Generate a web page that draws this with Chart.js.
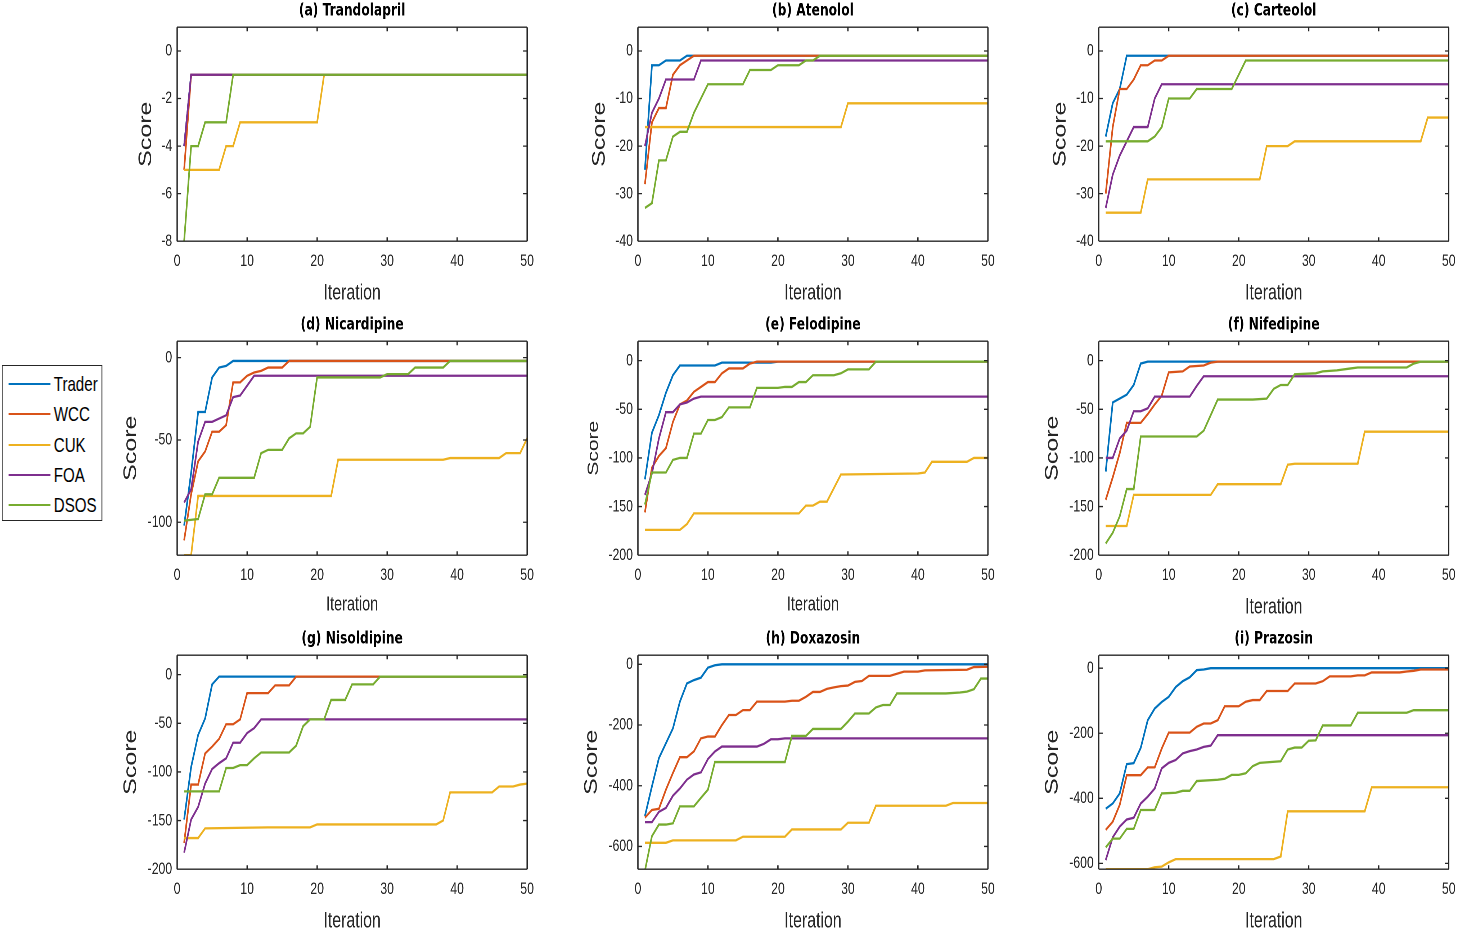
<!DOCTYPE html>
<html>
<head>
<meta charset="utf-8">
<title>Convergence of Trader, WCC, CUK, FOA and DSOS</title>
<script src="https://cdn.jsdelivr.net/npm/chart.js@4.4.0/dist/chart.umd.min.js"></script>
<style>
  html, body { margin: 0; padding: 0; background: #fff; overflow: hidden; }
  #figure { position: absolute; left: 0; top: 0; height: 932px; transform-origin: 0 0; }
  #figure canvas { position: absolute; }
  #legend {
    position: absolute; box-sizing: border-box; background: #fff; z-index: 2;
    border: 1px solid #262626;
    font-family: 'Liberation Sans', Arial, sans-serif; color: #000;
  }
  .legend-line { position: absolute; height: 2px; }
  .legend-text { position: absolute; line-height: 1; white-space: nowrap; }
</style>
</head>
<body>
<div id="figure"><div id="legend"></div></div>
<script>
// ---- data ----
const panelTitles = ['(a) Trandolapril', '(b) Atenolol', '(c) Carteolol',
                     '(d) Nicardipine', '(e) Felodipine', '(f) Nifedipine',
                     '(g) Nisoldipine', '(h) Doxazosin', '(i) Prazosin'];
const seriesNames = ['Trader', 'WCC', 'CUK', 'FOA', 'DSOS'];
const xLabel = 'Iteration';
const yLabel = 'Score';
const xMin = 0, xMax = 50, xStep = 10;
const yMins  = [-8, -40, -40, -120, -200, -200, -200, -675, -618];
const yMaxs  = [1, 5, 5, 10, 20, 20, 20, 30, 40];
const ySteps = [2, 10, 10, 50, 50, 50, 50, 200, 200];

// [iteration, score] at each point where the best score changes

// (a) Trandolapril
const aTrader = [[1,-4],[2,-1],[50,-1]];
const aWCC    = [[1,-5],[2,-1],[50,-1]];
const aCUK    = [[1,-5],[6,-5],[7,-4],[8,-4],[9,-3],[20,-3],[21,-1],[50,-1]];
const aFOA    = [[1,-4],[2,-1],[50,-1]];
const aDSOS   = [[1,-8],[2,-4],[3,-4],[4,-3],[7,-3],[8,-1],[50,-1]];

// (b) Atenolol
const bTrader = [[1,-25],[2,-3],[3,-3],[4,-2],[6,-2],[7,-1],[50,-1]];
const bWCC    = [[1,-28],[2,-15],[3,-12],[4,-12],[5,-5],[6,-3],[7,-2],[8,-1],[50,-1]];
const bCUK    = [[1,-16],[29,-16],[30,-11],[50,-11]];
const bFOA    = [[1,-20],[2,-13],[3,-10],[4,-6],[8,-6],[9,-2],[50,-2]];
const bDSOS   = [[1,-33],[2,-32],[3,-23],[4,-23],[5,-18],[6,-17],[7,-17],[8,-13],[9,-10],[10,-7],
                 [15,-7],[16,-4],[19,-4],[20,-3],[23,-3],[24,-2],[25,-2],[26,-1],[50,-1]];

// (c) Carteolol
const cTrader = [[1,-18],[2,-11],[3,-8],[4,-1],[50,-1]];
const cWCC    = [[1,-30],[2,-16],[3,-8],[4,-8],[5,-6],[6,-3],[7,-3],[8,-2],[9,-2],[10,-1],[50,-1]];
const cCUK    = [[1,-34],[6,-34],[7,-27],[23,-27],[24,-20],[27,-20],[28,-19],[46,-19],[47,-14],[50,-14]];
const cFOA    = [[1,-33],[2,-26],[3,-22],[4,-19],[5,-16],[7,-16],[8,-10],[9,-7],[50,-7]];
const cDSOS   = [[1,-19],[7,-19],[8,-18],[9,-16],[10,-10],[13,-10],[14,-8],[19,-8],[20,-5],[21,-2],[50,-2]];

// (d) Nicardipine
const dTrader = [[1,-102],[2,-70],[3,-33],[4,-33],[5,-12],[6,-6],[7,-5],[8,-2],[50,-2]];
const dWCC    = [[1,-111],[2,-83],[3,-63],[4,-57],[5,-45],[6,-45],[7,-41],[8,-15],[9,-15],[10,-11],
                 [11,-9],[12,-8],[13,-6],[15,-6],[16,-2],[50,-2]];
const dCUK    = [[1,-120],[2,-120],[3,-84],[22,-84],[23,-62],[38,-62],[39,-61],[46,-61],[47,-58],[49,-58],[50,-49]];
const dFOA    = [[1,-88],[2,-80],[3,-51],[4,-39],[5,-39],[6,-37],[7,-35],[8,-24],[9,-23],[10,-17],[11,-11],[50,-11]];
const dDSOS   = [[1,-99],[3,-98],[4,-83],[5,-83],[6,-73],[11,-73],[12,-58],[13,-56],[15,-56],[16,-49],
                 [17,-46],[18,-46],[19,-42],[20,-12],[29,-12],[30,-10],[33,-10],[34,-6],[38,-6],[39,-2],[50,-2]];

// (e) Felodipine
const eTrader = [[1,-122],[2,-74],[3,-56],[4,-33],[5,-15],[6,-5],[11,-5],[12,-2],[19,-2],[20,-1],[50,-1]];
const eWCC    = [[1,-156],[2,-110],[3,-98],[4,-90],[5,-63],[6,-45],[7,-41],[8,-32],[9,-27],[10,-22],
                 [11,-22],[12,-13],[13,-8],[15,-8],[16,-3],[17,-1],[50,-1]];
const eCUK    = [[1,-174],[6,-174],[7,-168],[8,-157],[23,-157],[24,-149],[25,-149],[26,-145],[27,-145],
                 [28,-131],[29,-117],[40,-116],[41,-115],[42,-104],[47,-104],[48,-100],[50,-100]];
const eFOA    = [[1,-138],[2,-116],[3,-80],[4,-53],[5,-53],[6,-45],[7,-43],[8,-39],[9,-37],[50,-37]];
const eDSOS   = [[1,-148],[2,-115],[4,-115],[5,-102],[6,-100],[7,-100],[8,-75],[9,-75],[10,-61],[11,-61],
                 [12,-58],[13,-48],[16,-48],[17,-28],[20,-28],[21,-27],[22,-27],[23,-22],[24,-22],[25,-15],
                 [28,-15],[29,-13],[30,-9],[33,-9],[34,-1],[50,-1]];

// (f) Nifedipine
const fTrader = [[1,-114],[2,-43],[3,-39],[4,-35],[5,-25],[6,-3],[7,-1],[50,-1]];
const fWCC    = [[1,-143],[2,-120],[3,-95],[4,-64],[6,-64],[7,-55],[8,-45],[9,-36],[10,-12],[12,-11],
                 [13,-6],[15,-5],[16,-2],[17,-1],[50,-1]];
const fCUK    = [[1,-170],[4,-170],[5,-138],[16,-138],[17,-127],[26,-127],[27,-107],[28,-106],[37,-106],[38,-73],[50,-73]];
const fFOA    = [[1,-100],[2,-100],[3,-80],[4,-72],[5,-52],[6,-52],[7,-49],[8,-37],[13,-37],[14,-26],[15,-16],[50,-16]];
const fDSOS   = [[1,-188],[2,-177],[3,-160],[4,-132],[5,-132],[6,-78],[14,-78],[15,-72],[16,-56],[17,-40],
                 [22,-40],[24,-39],[25,-29],[26,-25],[27,-25],[28,-14],[31,-13],[32,-11],[34,-10],[36,-8],
                 [37,-7],[44,-7],[45,-3],[46,-1],[50,-1]];

// (g) Nisoldipine
const gTrader = [[1,-149],[2,-95],[3,-62],[4,-45],[5,-10],[6,-2],[50,-2]];
const gWCC    = [[1,-173],[2,-113],[3,-113],[4,-81],[5,-74],[6,-66],[7,-51],[8,-51],[9,-46],[10,-19],
                 [13,-19],[14,-11],[16,-11],[17,-2],[50,-2]];
const gCUK    = [[1,-168],[3,-168],[4,-158],[13,-157],[19,-157],[20,-154],[37,-154],[38,-150],[39,-121],
                 [45,-121],[46,-115],[48,-115],[49,-113],[50,-112]];
const gFOA    = [[1,-183],[2,-149],[3,-136],[4,-112],[5,-97],[6,-91],[7,-86],[8,-70],[9,-70],[10,-60],
                 [11,-55],[12,-46],[50,-46]];
const gDSOS   = [[1,-120],[6,-120],[7,-96],[8,-96],[9,-93],[10,-93],[11,-86],[12,-80],[16,-80],[17,-73],
                 [18,-53],[19,-46],[21,-46],[22,-26],[24,-26],[25,-10],[28,-10],[29,-2],[50,-2]];

// (h) Doxazosin
const hTrader = [[1,-500],[2,-402],[3,-309],[4,-260],[5,-211],[6,-123],[7,-63],[8,-52],[9,-44],[10,-11],
                 [11,-3],[12,0],[50,0]];
const hWCC    = [[1,-505],[2,-480],[3,-476],[4,-413],[5,-358],[6,-306],[7,-306],[8,-287],[9,-244],[10,-238],
                 [11,-238],[12,-200],[13,-167],[14,-167],[15,-151],[16,-151],[17,-123],[21,-123],[22,-120],
                 [23,-120],[24,-107],[25,-91],[26,-91],[27,-81],[28,-76],[29,-72],[30,-70],[31,-58],[32,-55],
                 [33,-38],[36,-38],[37,-31],[38,-24],[40,-24],[41,-20],[47,-18],[48,-9],[50,-8]];
const hCUK    = [[1,-588],[4,-588],[5,-580],[14,-580],[15,-568],[21,-568],[22,-544],[29,-544],[30,-522],
                 [33,-522],[34,-466],[44,-466],[45,-457],[50,-457]];
const hFOA    = [[1,-520],[2,-520],[3,-486],[4,-473],[5,-433],[6,-409],[7,-380],[8,-363],[9,-356],[10,-312],
                 [11,-287],[12,-271],[17,-271],[18,-262],[19,-247],[20,-247],[21,-244],[50,-244]];
const hDSOS   = [[1,-680],[2,-566],[3,-528],[4,-528],[5,-524],[6,-468],[8,-468],[9,-440],[10,-413],[11,-322],
                 [21,-322],[22,-236],[24,-236],[25,-213],[29,-213],[30,-189],[31,-162],[33,-162],[34,-142],
                 [35,-134],[36,-134],[37,-96],[44,-96],[46,-93],[47,-90],[48,-82],[49,-47],[50,-47]];

// (i) Prazosin
const iTrader = [[1,-432],[2,-416],[3,-385],[4,-295],[5,-292],[6,-245],[7,-160],[8,-124],[9,-104],[10,-88],
                 [11,-58],[12,-40],[13,-28],[14,-6],[15,-4],[16,0],[50,0]];
const iWCC    = [[1,-497],[2,-472],[3,-420],[4,-329],[6,-329],[7,-305],[8,-305],[9,-247],[10,-198],[13,-198],
                 [14,-180],[15,-170],[16,-170],[17,-160],[18,-117],[20,-117],[21,-103],[22,-98],[23,-98],
                 [24,-70],[27,-70],[28,-47],[31,-47],[32,-40],[33,-25],[36,-25],[37,-22],[38,-22],[39,-13],
                 [43,-13],[44,-10],[45,-8],[46,-4],[50,-4]];
const iCUK    = [[1,-618],[7,-618],[8,-612],[9,-610],[10,-597],[11,-587],[25,-587],[26,-579],[27,-440],
                 [38,-440],[39,-366],[50,-366]];
const iFOA    = [[1,-590],[2,-520],[3,-487],[4,-465],[5,-460],[6,-416],[7,-395],[8,-370],[9,-308],[10,-291],
                 [11,-282],[12,-262],[13,-255],[14,-250],[15,-242],[16,-238],[17,-206],[50,-206]];
const iDSOS   = [[1,-551],[2,-524],[3,-524],[4,-494],[5,-494],[6,-436],[8,-436],[9,-385],[11,-383],[12,-377],
                 [13,-377],[14,-347],[17,-343],[18,-340],[19,-328],[20,-328],[21,-323],[22,-301],[23,-291],
                 [26,-286],[27,-250],[28,-244],[29,-244],[30,-223],[31,-222],[32,-176],[36,-176],[37,-137],
                 [44,-137],[45,-129],[50,-129]];

const panelSeries = [
    [aTrader, aWCC, aCUK, aFOA, aDSOS],
    [bTrader, bWCC, bCUK, bFOA, bDSOS],
    [cTrader, cWCC, cCUK, cFOA, cDSOS],
    [dTrader, dWCC, dCUK, dFOA, dDSOS],
    [eTrader, eWCC, eCUK, eFOA, eDSOS],
    [fTrader, fWCC, fCUK, fFOA, fDSOS],
    [gTrader, gWCC, gCUK, gFOA, gDSOS],
    [hTrader, hWCC, hCUK, hFOA, hDSOS],
    [iTrader, iWCC, iCUK, iFOA, iDSOS]
];

// ---- styles & layout ----
const seriesColors = ['#0072BD', '#D95319', '#EDB120', '#7E2F8E', '#77AC30'];
const axisColor = '#262626';

// the original figure is squeezed horizontally; draw wide, then squeeze the whole page
const S = 0.72;
const plotLefts = [177, 638, 1099];
const plotTops = [27, 341, 655];
const plotWidth = 350, plotHeight = 214;
const Y_AXIS_W = 100;     // unsqueezed px
const X_AXIS_H = 75;
const RIGHT_ROOM = 30;    // room for the overhanging "50" label
const TICK_FONT = 17;
const TITLE_FONT = 17;
const scoreFont = [25, 25, 25, 25, 21, 25, 25, 25, 25];
const scoreOffset = [31, 38, 38, 46, 44, 46, 46, 46, 46];   // label centre left of plot
const iterFont = [22, 22, 22, 20, 20, 22, 22, 22, 22];
const iterOffset = [52, 52, 52, 50, 50, 52, 52, 52, 52];    // label centre below plot

Chart.defaults.font.family = "'Liberation Sans', Arial, sans-serif";

const figure = document.getElementById('figure');
figure.style.width = (1459 / S) + 'px';
figure.style.transform = `scaleX(${S})`;

// MATLAB-like box with inward ticks on all four sides
const boxPlugin = {
    id: 'matlabBox',
    afterDraw(chart) {
        const { ctx, chartArea: a, scales: { x, y } } = chart;
        const tickLen = 4;
        ctx.save();
        ctx.strokeStyle = axisColor;

        // horizontal strokes
        ctx.lineWidth = 1.3;
        ctx.beginPath();
        ctx.moveTo(a.left, a.top); ctx.lineTo(a.right, a.top);
        ctx.moveTo(a.left, a.bottom); ctx.lineTo(a.right, a.bottom);
        y.ticks.forEach(t => {
            const py = y.getPixelForValue(t.value);
            ctx.moveTo(a.left, py); ctx.lineTo(a.left + tickLen / S, py);
            ctx.moveTo(a.right, py); ctx.lineTo(a.right - tickLen / S, py);
        });
        ctx.stroke();

        // vertical strokes (thicker so they survive the squeeze)
        ctx.lineWidth = 1.3 / S;
        ctx.beginPath();
        ctx.moveTo(a.left, a.top); ctx.lineTo(a.left, a.bottom);
        ctx.moveTo(a.right, a.top); ctx.lineTo(a.right, a.bottom);
        x.ticks.forEach(t => {
            const px = x.getPixelForValue(t.value);
            ctx.moveTo(px, a.bottom); ctx.lineTo(px, a.bottom - tickLen);
            ctx.moveTo(px, a.top); ctx.lineTo(px, a.top + tickLen);
        });
        ctx.stroke();
        ctx.restore();
    }
};

function buildPanel(i) {
    const col = i % 3, row = Math.floor(i / 3);
    const areaLeft = plotLefts[col] / S;
    const areaWidth = plotWidth / S;
    const titleLine = TITLE_FONT * 1.2;
    const titleGap = 16 - titleLine / 2;
    const titleBlock = titleLine + titleGap;

    const w = Math.round(Y_AXIS_W + areaWidth + RIGHT_ROOM);
    const h = Math.round(titleBlock + plotHeight + X_AXIS_H);
    const rightPad = w - Y_AXIS_W - areaWidth;
    const xAxisH = h - titleBlock - plotHeight;

    const canvas = document.createElement('canvas');
    canvas.width = w;
    canvas.height = h;
    canvas.style.left = (areaLeft - Y_AXIS_W) + 'px';
    canvas.style.top = (plotTops[row] - titleBlock) + 'px';
    figure.appendChild(canvas);

    const scoreLine = scoreFont[i] * 1.2;
    const iterLine = iterFont[i] * 1.2;

    const datasets = panelSeries[i].map((pts, k) => ({
        label: seriesNames[k],
        data: pts,
        borderColor: seriesColors[k],
        backgroundColor: seriesColors[k],
        borderWidth: 2.3,
        pointRadius: 0,
        tension: 0,
        fill: false,
        order: seriesNames.length - k   // later series drawn on top
    }));

    new Chart(canvas, {
        type: 'line',
        data: { datasets },
        options: {
            responsive: false,
            animation: false,
            devicePixelRatio: 2,
            layout: { padding: { left: 0, right: rightPad, top: 0, bottom: 0 } },
            plugins: {
                legend: { display: false },
                tooltip: { enabled: false },
                title: {
                    display: true,
                    text: panelTitles[i],
                    fullSize: false,
                    color: '#000',
                    font: { family: "'DejaVu Sans', sans-serif", weight: 'bold', size: TITLE_FONT, lineHeight: 1.2 },
                    padding: { top: 0, bottom: titleGap }
                }
            },
            scales: {
                x: {
                    type: 'linear',
                    min: xMin,
                    max: xMax,
                    grid: { display: false, drawTicks: false },
                    border: { display: false },
                    ticks: {
                        stepSize: xStep,
                        padding: 10,
                        color: axisColor,
                        font: { size: TICK_FONT },
                        maxRotation: 0,
                        autoSkip: false
                    },
                    title: {
                        display: true,
                        text: xLabel,
                        color: axisColor,
                        font: { size: iterFont[i], lineHeight: 1.2 },
                        padding: { top: 0, bottom: xAxisH - iterLine / 2 - iterOffset[i] }
                    },
                    afterFit: s => { s.height = xAxisH; }
                },
                y: {
                    type: 'linear',
                    min: yMins[i],
                    max: yMaxs[i],
                    grid: { display: false, drawTicks: false },
                    border: { display: false },
                    ticks: {
                        stepSize: ySteps[i],
                        includeBounds: false,
                        padding: 5 / S,
                        color: axisColor,
                        font: { size: TICK_FONT }
                    },
                    title: {
                        display: true,
                        text: yLabel,
                        color: axisColor,
                        font: { size: scoreFont[i], lineHeight: 1.2 },
                        padding: { top: Y_AXIS_W - scoreLine / 2 - scoreOffset[i] / S, bottom: 0 }
                    },
                    afterFit: s => { s.width = Y_AXIS_W; }
                }
            }
        },
        plugins: [boxPlugin]
    });
}

panelTitles.forEach((t, i) => buildPanel(i));

// legend box to the left of the middle row
const legend = document.getElementById('legend');
legend.style.left = (2 / S) + 'px';
legend.style.top = '365px';
legend.style.width = (100 / S) + 'px';
legend.style.height = '156px';
legend.style.borderLeftWidth = (1 / S) + 'px';
legend.style.borderRightWidth = (1 / S) + 'px';
seriesNames.forEach((name, k) => {
    const cy = 18 + k * 30.3;
    const line = document.createElement('div');
    line.className = 'legend-line';
    line.style.left = (6 / S) + 'px';
    line.style.width = (42 / S) + 'px';
    line.style.top = (cy - 1) + 'px';
    line.style.background = seriesColors[k];
    legend.appendChild(line);

    const text = document.createElement('div');
    text.className = 'legend-text';
    text.textContent = name;
    text.style.left = (51 / S) + 'px';
    text.style.top = (cy - 11) + 'px';
    text.style.fontSize = '21px';
    legend.appendChild(text);
});
</script>
</body>
</html>
